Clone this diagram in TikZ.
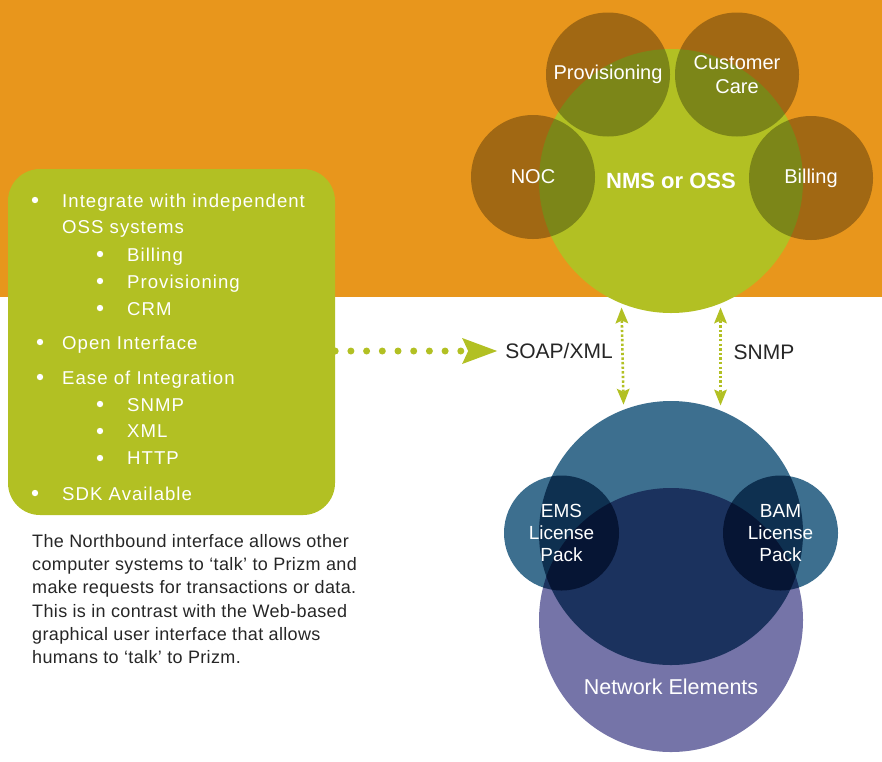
\documentclass[tikz,border=0pt]{standalone}
\usepackage{fontspec}
\setmainfont{Liberation Sans}
\newfontfamily\boxfont[LetterSpace=5.5]{Liberation Sans}
\newfontfamily\parafont[LetterSpace=2]{Liberation Sans}
\usepackage{xcolor}
\usepackage{tikz}
\usetikzlibrary{arrows.meta}
\definecolor{band}{HTML}{E8961C}
\definecolor{lime}{HTML}{B2C023}
\definecolor{steel}{HTML}{3D6F8F}
\definecolor{lilac}{HTML}{7574A8}
\definecolor{ink}{HTML}{262626}
\tikzset{
  hub/.style={circle, inner sep=0pt, minimum size=264pt, text=white},
  bubble/.style={circle, inner sep=0pt, minimum size=124pt, fill=black, fill opacity=0.3,
    text opacity=1, text=white, align=center, font=\fontsize{20}{23.5}\selectfont},
  pack/.style={circle, inner sep=0pt, minimum size=115pt, fill=steel},
  lab/.style={text=white, align=center, inner sep=0pt},
  item/.style={anchor=base west, inner sep=0pt, text=white, font=\boxfont\fontsize{18.6}{22}\selectfont},
  panel/.style={rectangle, rounded corners=32pt, fill=lime, minimum width=327pt, minimum height=346pt},
  proto/.style={text=ink, inner sep=2pt, font=\fontsize{21}{24}\selectfont},
  dots/.style={draw=lime, line width=7pt, line cap=round, dash pattern=on 0pt off 15.7pt,
    -{Stealth[length=35pt, width=26pt, inset=6pt, line width=0pt]}, shorten >=6pt},
  link/.style={draw=lime, line width=2.6pt, dash pattern=on 2.4pt off 2.2pt,
    {Stealth[length=16pt, width=13pt, inset=3pt, line width=0pt]}-{Stealth[length=16pt, width=13pt, inset=3pt, line width=0pt]}},
}
\begin{document}
\begin{tikzpicture}[x=1pt, y=-1pt]
  \useasboundingbox (0,0) rectangle (882,761);
  \fill[band] (0,0) rectangle (882,297);

  % management side
  \node[hub, fill=lime, font=\bfseries\fontsize{22}{24}\selectfont] (nms) at (671,181) {NMS or OSS};
  \node[bubble] (prov) at (608,74.5) {Provisioning};
  \node[bubble] (care) at (737,74.5) {Customer\\Care};
  \node[bubble] (noc) at (533,177) {NOC};
  \node[bubble] (bill) at (811,178) {Billing};

  % network side
  \node[hub, fill=lilac] (ne) at (671,620) {};
  \begin{scope}[blend mode=multiply]
    \node[hub, fill=steel] (core) at (671,533) {};
    \node[pack] (ems) at (561.5,533) {};
    \node[pack] (bam) at (780.5,533) {};
  \end{scope}
  \node[lab, font=\fontsize{19}{22}\selectfont] (emslab) at (ems) {EMS\\License\\Pack};
  \node[lab, font=\fontsize{19}{22}\selectfont] (bamlab) at (bam) {BAM\\License\\Pack};
  \node[lab, font=\fontsize{21.5}{24}\selectfont] (nelab) at (671,687) {Network Elements};

  % feature list
  \node[panel] (feat) at (171.5,342) {};
  \foreach \by/\tx/\txt [count=\i] in {
      207/62/Integrate with independent, 233/62/OSS systems,
      261/127/Billing, 288/127/Provisioning, 315/127/CRM,
      349/62/Open Interface, 384/62/Ease of Integration,
      411/127/SNMP, 437/127/XML, 464/127/HTTP, 500/62/SDK Available}
    \node[item] (ln\i) at (\tx,\by) {\txt};
  \foreach \bx/\by in {35/200, 100/254, 100/281, 100/308, 40/342, 40/377,
      100/404, 100/431, 100/458, 35/493}
    \fill[white] (\bx,\by) circle (3.2);

  \node[anchor=north west, inner sep=0pt, align=left, text=ink,
    font=\parafont\fontsize{18}{23.3}\selectfont] (note) at (32,534)
    {The Northbound interface allows other\\
     computer systems to ‘talk’ to Prizm and\\
     make requests for transactions or data.\\
     This is in contrast with the Web-based\\
     graphical user interface that allows\\
     humans to ‘talk’ to Prizm.};

  % interfaces
  \node[proto] (soap) at (559,351) {SOAP/XML};
  \node[proto] (snmp) at (764,352) {SNMP};
  \draw[dots] (feat.east |- soap.west) -- (soap.west);
  \draw[link, shorten <=4pt, shorten >=5pt] (nms.248.7) -- (core.111.3);
  \draw[link, shorten <=4pt, shorten >=5pt] (nms.292.7) -- (core.68.7);
\end{tikzpicture}
\end{document}
